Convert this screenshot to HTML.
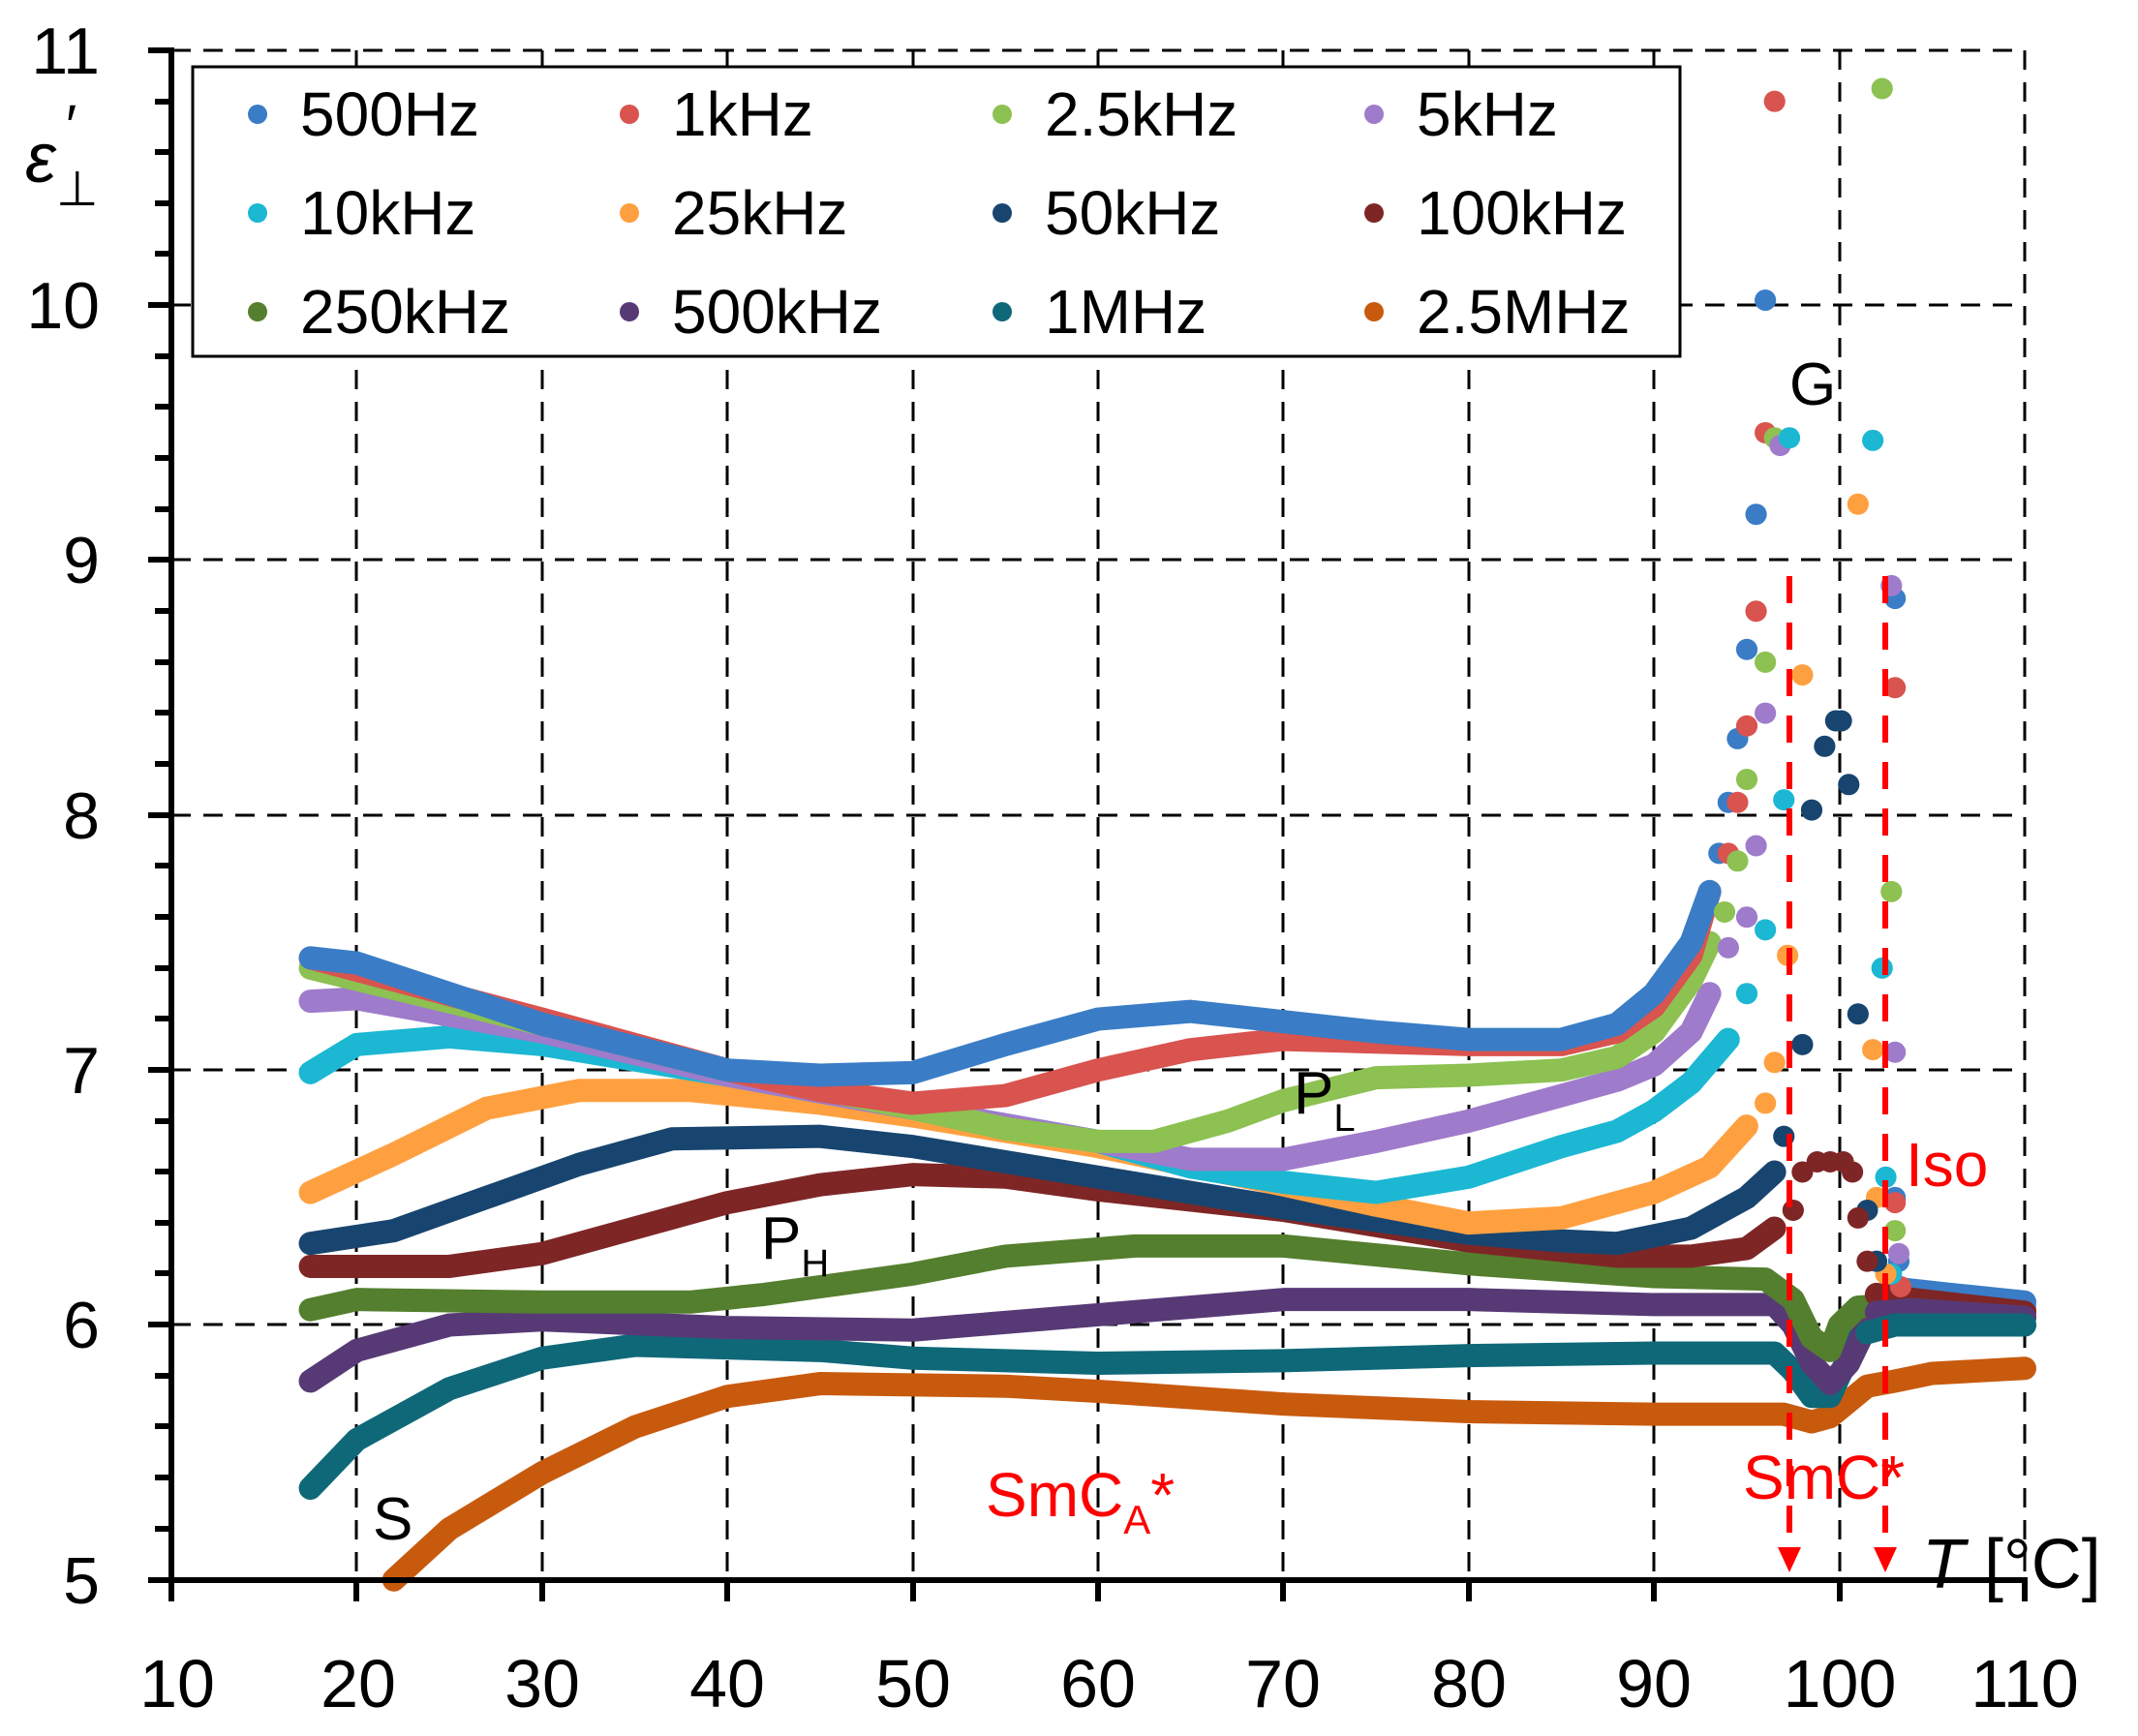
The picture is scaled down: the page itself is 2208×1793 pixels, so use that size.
<!DOCTYPE html>
<html><head><meta charset="utf-8"><style>
html,body{margin:0;padding:0;background:#fff}
svg{display:block}
text{font-family:"Liberation Sans",sans-serif}
</style></head><body>
<svg width="2208" height="1793" viewBox="0 0 2208 1793" xmlns="http://www.w3.org/2000/svg">
<rect width="2208" height="1793" fill="#fff"/>
<!-- grid -->
<g stroke="#000" stroke-width="3" stroke-dasharray="20,13" fill="none">
<path d="M368 52V1632M560 52V1632M751 52V1632M943 52V1632M1134 52V1632M1325 52V1632M1517 52V1632M1708 52V1632M1900 52V1632M2091 52V1632"/>
<path d="M177 52H2091M177 315H2091M177 578H2091M177 842H2091M177 1105H2091M177 1368H2091"/>
</g>
<!-- legend -->
<rect x="199" y="69" width="1536" height="299" fill="#fff" stroke="#000" stroke-width="3"/>
<g font-size="64" fill="#000">
<circle cx="266" cy="118" r="10" fill="#3A7DC6"/><text x="310" y="140">500Hz</text>
<circle cx="650" cy="118" r="10" fill="#D9534F"/><text x="694" y="140">1kHz</text>
<circle cx="1035" cy="118" r="10" fill="#8DC152"/><text x="1079" y="140">2.5kHz</text>
<circle cx="1419" cy="118" r="10" fill="#9F7BCB"/><text x="1463" y="140">5kHz</text>
<circle cx="266" cy="220" r="10" fill="#1CB7D3"/><text x="310" y="242">10kHz</text>
<circle cx="650" cy="220" r="10" fill="#FFA040"/><text x="694" y="242">25kHz</text>
<circle cx="1035" cy="220" r="10" fill="#18456F"/><text x="1079" y="242">50kHz</text>
<circle cx="1419" cy="220" r="10" fill="#7E2626"/><text x="1463" y="242">100kHz</text>
<circle cx="266" cy="322" r="10" fill="#547F2E"/><text x="310" y="344">250kHz</text>
<circle cx="650" cy="322" r="10" fill="#573A75"/><text x="694" y="344">500kHz</text>
<circle cx="1035" cy="322" r="10" fill="#0F6878"/><text x="1079" y="344">1MHz</text>
<circle cx="1419" cy="322" r="10" fill="#C85A0E"/><text x="1463" y="344">2.5MHz</text>
</g>
<!-- data -->
<g transform="matrix(19.14 0 0 -263.3 -14.4 2948.3)" fill="none" stroke-linecap="round" stroke-linejoin="round">
<g stroke-width="24">
<polyline vector-effect="non-scaling-stroke" stroke="#C85A0E" points="22,5.0 25,5.2 30,5.42 35,5.6 40,5.72 45,5.77 55,5.76 60,5.74 70,5.69 80,5.66 90,5.65 97,5.65 98.5,5.62 99.5,5.64 100.5,5.7 101.5,5.76 103,5.78 105,5.81 110,5.83"/>
<polyline vector-effect="non-scaling-stroke" stroke="#0F6878" points="17.5,5.36 20,5.55 25,5.75 30,5.87 35,5.92 45,5.9 50,5.87 60,5.85 70,5.86 80,5.88 90,5.89 96.5,5.89 97.5,5.82 98.5,5.72 99.5,5.72 100,5.8 101,5.95 102,6.0 110,6.0"/>
<polyline vector-effect="non-scaling-stroke" stroke="#573A75" points="17.5,5.78 20,5.9 25,6.0 30,6.02 40,5.99 50,5.98 60,6.04 70,6.1 80,6.1 90,6.08 96.5,6.08 97.5,6.0 98.5,5.85 99.5,5.77 100.5,5.85 101.5,6.0 103,6.06 110,6.03"/>
<polyline vector-effect="non-scaling-stroke" stroke="#547F2E" points="17.5,6.06 20,6.1 30,6.09 38,6.09 42,6.12 50,6.2 55,6.27 62,6.31 70,6.31 80,6.24 90,6.19 96,6.18 97.5,6.1 98.5,5.95 99.5,5.9 100,6.0 101,6.07 103,6.08 110,6.06"/>
<polyline vector-effect="non-scaling-stroke" stroke="#7E2626" points="17.5,6.23 25,6.23 30,6.28 35,6.38 40,6.48 45,6.55 50,6.59 55,6.58 60,6.53 70,6.45 80,6.33 88,6.27 92,6.27 95,6.3 96.5,6.38"/>
<polyline vector-effect="non-scaling-stroke" stroke="#18456F" points="17.5,6.32 22,6.37 27,6.5 32,6.63 37,6.73 45,6.74 50,6.7 60,6.58 70,6.46 80,6.36 85,6.33 88,6.32 92,6.38 95,6.5 96.5,6.6"/>
<polyline vector-effect="non-scaling-stroke" stroke="#FFA040" points="17.5,6.52 22,6.67 27,6.85 32,6.92 38,6.92 45,6.87 50,6.82 60,6.7 70,6.55 75,6.47 80,6.4 85,6.42 90,6.52 93,6.62 95,6.78"/>
<polyline vector-effect="non-scaling-stroke" stroke="#1CB7D3" points="17.5,6.99 20,7.1 25,7.13 30,7.1 40,6.98 50,6.85 60,6.72 65,6.62 70,6.56 75,6.52 80,6.58 85,6.7 88,6.76 90,6.84 92,6.95 94,7.12"/>
<polyline vector-effect="non-scaling-stroke" stroke="#9F7BCB" points="17.5,7.27 20,7.28 30,7.15 40,6.98 50,6.85 60,6.72 65,6.65 70,6.65 75,6.72 80,6.8 85,6.9 88,6.96 90,7.02 92,7.15 93,7.3"/>
<polyline vector-effect="non-scaling-stroke" stroke="#8DC152" points="17.5,7.4 30,7.18 40,7.0 50,6.85 55,6.77 60,6.72 63,6.72 67,6.8 70,6.88 75,6.97 80,6.98 85,7.0 88,7.05 90,7.15 92,7.35 93,7.5"/>
<polyline vector-effect="non-scaling-stroke" stroke="#D9534F" points="17.5,7.44 30,7.2 40,7.0 45,6.92 50,6.87 55,6.9 60,7.0 65,7.08 70,7.12 80,7.1 85,7.1 88,7.15 90,7.25 92,7.45 93,7.7"/>
<polyline vector-effect="non-scaling-stroke" stroke="#3A7DC6" points="17.5,7.44 20,7.42 30,7.18 40,7.0 45,6.98 50,6.99 55,7.1 60,7.2 65,7.23 70,7.19 75,7.15 80,7.12 85,7.12 88,7.18 90,7.3 92,7.5 93,7.7"/>
<!-- iso tails -->
<polyline vector-effect="non-scaling-stroke" stroke="#9F7BCB" points="103.5,6.12 106,6.1 110,6.07"/>
<polyline vector-effect="non-scaling-stroke" stroke="#3A7DC6" points="103.5,6.14 106,6.12 110,6.09"/>
<polyline vector-effect="non-scaling-stroke" stroke="#7E2626" points="102,6.12 104,6.1 110,6.05"/>
<polyline vector-effect="non-scaling-stroke" stroke="#573A75" points="102,6.05 104,6.06 110,6.03"/>
<polyline vector-effect="non-scaling-stroke" stroke="#0F6878" points="101.5,5.97 103,6.0 110,6.0"/>
</g>
<!-- sparse dots -->
<path vector-effect="non-scaling-stroke" stroke-width="22" stroke="#3A7DC6" d="M93.5 7.85h.01M94 8.05h.01M94.5 8.3h.01M95 8.65h.01M95.5 9.18h.01M96 10.02h.01M103 8.85h.01M103 6.5h.01M103.2 6.25h.01"/>
<path vector-effect="non-scaling-stroke" stroke-width="22" stroke="#D9534F" d="M94 7.85h.01M94.5 8.05h.01M95 8.35h.01M95.5 8.8h.01M96 9.5h.01M96.5 10.8h.01M103 8.5h.01M103 6.48h.01M103.3 6.15h.01"/>
<path vector-effect="non-scaling-stroke" stroke-width="22" stroke="#8DC152" d="M93.8 7.62h.01M94.5 7.82h.01M95 8.14h.01M96 8.6h.01M96.5 9.48h.01M102.3 10.85h.01M102.8 7.7h.01M103 6.37h.01"/>
<path vector-effect="non-scaling-stroke" stroke-width="22" stroke="#9F7BCB" d="M94 7.48h.01M95 7.6h.01M95.5 7.88h.01M96 8.4h.01M96.8 9.45h.01M102.8 8.9h.01M103 7.07h.01M103.2 6.28h.01"/>
<path vector-effect="non-scaling-stroke" stroke-width="22" stroke="#1CB7D3" d="M95 7.3h.01M96 7.55h.01M97 8.06h.01M97.3 9.48h.01M101.8 9.47h.01M102.3 7.4h.01M102.5 6.58h.01M102.8 6.2h.01"/>
<path vector-effect="non-scaling-stroke" stroke-width="22" stroke="#FFA040" d="M96 6.87h.01M96.5 7.03h.01M97.2 7.45h.01M98 8.55h.01M101 9.22h.01M101.8 7.08h.01M102 6.5h.01M102.5 6.2h.01"/>
<path vector-effect="non-scaling-stroke" stroke-width="22" stroke="#18456F" d="M97 6.74h.01M98 7.1h.01M98.5 8.02h.01M99.2 8.27h.01M99.8 8.37h.01M100.1 8.37h.01M100.5 8.12h.01M101 7.22h.01M101.5 6.45h.01M102 6.25h.01"/>
<path vector-effect="non-scaling-stroke" stroke-width="22" stroke="#7E2626" d="M97.5 6.45h.01M98 6.6h.01M98.8 6.64h.01M99.5 6.64h.01M100.2 6.64h.01M100.7 6.6h.01M101 6.42h.01M101.5 6.25h.01"/>
</g>
<!-- red dashed phase lines -->
<g stroke="#FF0000" stroke-width="6" stroke-dasharray="28,20" fill="none">
<path d="M1848 595V1605M1947 595V1605"/>
</g>
<path d="M1836 1598h24l-12 26z M1935 1598h24l-12 26z" fill="#FF0000"/>
<!-- axes -->
<g stroke="#000" stroke-width="6" fill="none">
<path d="M177 49V1635M174 1632H2094"/>
<path d="M153 52H177M153 315H177M153 578H177M153 842H177M153 1105H177M153 1368H177M153 1632H177"/>
<path d="M160 105H177M160 157H177M160 210H177M160 262H177M160 368H177M160 420H177M160 473H177M160 526H177M160 631H177M160 684H177M160 736H177M160 789H177M160 894H177M160 947H177M160 1000H177M160 1052H177M160 1158H177M160 1210H177M160 1263H177M160 1315H177M160 1421H177M160 1473H177M160 1526H177M160 1579H177"/>
<path d="M177 1632V1654M368 1632V1654M560 1632V1654M751 1632V1654M943 1632V1654M1134 1632V1654M1325 1632V1654M1517 1632V1654M1708 1632V1654M1900 1632V1654M2091 1632V1654"/>
</g>
<!-- tick labels -->
<g font-size="68" fill="#000" text-anchor="end">
<text x="103" y="76">11</text><text x="103" y="339">10</text><text x="103" y="602">9</text>
<text x="103" y="866">8</text><text x="103" y="1129">7</text><text x="103" y="1392">6</text><text x="103" y="1656">5</text>
</g>
<g font-size="70" fill="#000" text-anchor="middle">
<text x="183" y="1763">10</text><text x="370" y="1763">20</text><text x="560" y="1763">30</text><text x="751" y="1763">40</text>
<text x="943" y="1763">50</text><text x="1134" y="1763">60</text><text x="1325" y="1763">70</text><text x="1517" y="1763">80</text>
<text x="1708" y="1763">90</text><text x="1900" y="1763">100</text><text x="2091" y="1763">110</text>
</g>
<!-- axis titles -->
<text x="26" y="188" font-family="Liberation Serif,serif" font-style="italic" font-size="72">ε</text>
<text x="68" y="150" font-family="Liberation Serif,serif" font-size="60">′</text>
<text x="58" y="212" font-family="DejaVu Sans,sans-serif" font-size="50">⊥</text>
<text x="1985" y="1640" font-family="Liberation Serif,serif" font-size="72"><tspan font-style="italic">T</tspan> [°C]</text>
<!-- annotations -->
<g font-size="62" fill="#000">
<text x="1848" y="418">G</text>
<text x="1336" y="1150">P<tspan font-size="40" dy="18">L</tspan></text>
<text x="786" y="1300">P<tspan font-size="40" dy="18">H</tspan></text>
<text x="385" y="1590">S</text>
</g>
<g font-size="64" fill="#FF0000">
<text x="1968" y="1225">Iso</text>
<text x="1018" y="1566">SmC<tspan font-size="42" dy="18">A</tspan><tspan dy="-18">*</tspan></text>
<text x="1800" y="1548">SmC*</text>
</g>
</svg>
</body></html>
